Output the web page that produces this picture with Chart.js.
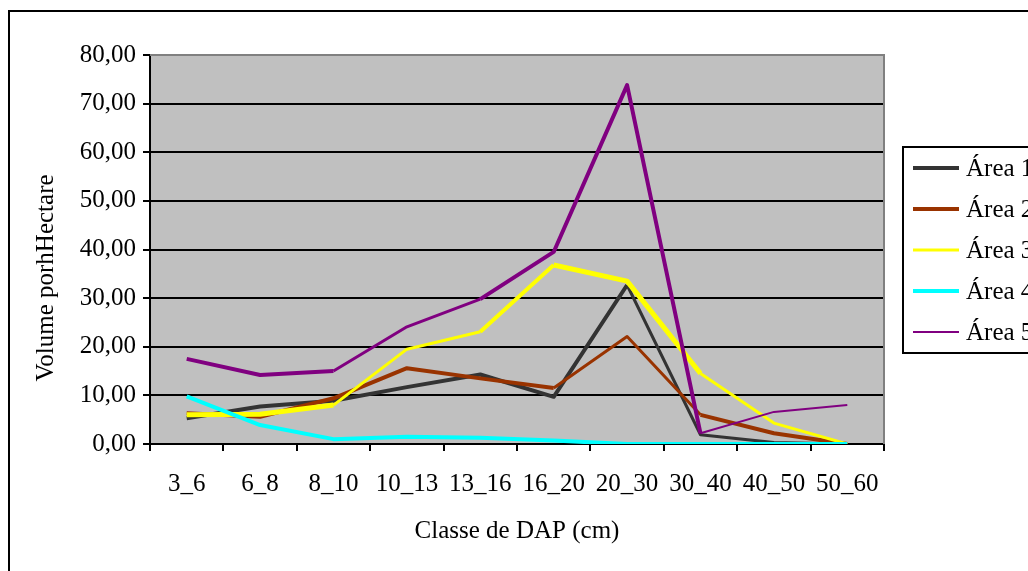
<!DOCTYPE html>
<html>
<head>
<meta charset="utf-8">
<title>Volume por hectare por classe de DAP</title>
<script src="https://cdn.jsdelivr.net/npm/chart.js@4.4.1/dist/chart.umd.min.js"></script>
<style>
  html, body { margin: 0; padding: 0; background: #ffffff; overflow: hidden; }
  #wrap { position: relative; width: 1028px; height: 571px; overflow: hidden; }
  canvas { display: block; }
</style>
</head>
<body>
<div id="wrap"><canvas id="chart" width="1028" height="571"></canvas></div>
<script>
// Diameter classes (cm)
const classes = ['3_6', '6_8', '8_10', '10_13', '13_16', '16_20', '20_30', '30_40', '40_50', '50_60'];

// Volume per hectare, one series per area
const area1 = [5.3, 7.7, 8.9, 11.7, 14.3, 9.7, 32.7, 1.9, 0.3, 0.0];
const area2 = [6.3, 5.6, 9.4, 15.6, 13.5, 11.5, 22.1, 6.0, 2.2, 0.0];
const area3 = [6.0, 6.1, 8.0, 19.5, 23.1, 36.8, 33.5, 14.5, 4.3, 0.0];
const area4 = [9.8, 3.9, 1.0, 1.5, 1.3, 0.7, 0.0, 0.0, 0.0, 0.0];
const area5 = [17.5, 14.2, 15.0, 24.1, 29.8, 39.5, 73.8, 2.2, 6.6, 8.0];

const seriesNames = ['Área 1', 'Área 2', 'Área 3', 'Área 4', 'Área 5'];

// Value axis ticks
const yTicks = [0, 10, 20, 30, 40, 50, 60, 70, 80];

const xTitle = 'Classe de DAP (cm)';
const yTitle = 'Volume porhHectare';

// Line styling
const colors = ['#333333', '#993300', '#ffff00', '#00ffff', '#800080'];
const segWidths = [
  [4, 4, 4, 4, 4, 4, 3, 3, 3],
  [4, 4, 4, 4, 4, 3, 3, 4, 4],
  [5, 5, 3, 3, 4, 5, 5, 3, 3],
  [4, 4, 4, 4, 4, 4, 4, 4, 4],
  [4, 4, 3, 3, 4, 4, 4, 2, 2]
];
const legendWidths = [4, 4, 3, 4, 2];

const FONT = '"Liberation Serif", "Times New Roman", Times, serif';
const FONT_SIZE = 25;
const series = [area1, area2, area3, area4, area5];

const datasets = series.map((values, i) => ({
  label: seriesNames[i],
  data: values,
  borderColor: colors[i],
  backgroundColor: colors[i],
  borderWidth: segWidths[i][0],
  segment: { borderWidth: ctx => segWidths[i][ctx.p0DataIndex] },
  pointRadius: 0,
  pointHoverRadius: 0,
  tension: 0,
  fill: false,
  borderJoinStyle: 'round',
  order: series.length - i
}));

// Grey plot area, its border, the outer frame and the vertical axis title
const framePlugin = {
  id: 'frame',
  beforeDraw(chart) {
    const { ctx, chartArea: a } = chart;
    ctx.save();
    ctx.fillStyle = '#c0c0c0';
    ctx.fillRect(a.left, a.top, a.right - a.left, a.bottom - a.top);
    ctx.restore();
  },
  afterDraw(chart) {
    const { ctx, chartArea: a } = chart;
    ctx.save();
    ctx.strokeStyle = '#808080';
    ctx.lineWidth = 2;
    ctx.beginPath();
    ctx.moveTo(a.left, a.top);
    ctx.lineTo(a.right, a.top);
    ctx.lineTo(a.right, a.bottom);
    ctx.stroke();

    // outer chart frame
    ctx.strokeStyle = '#000000';
    ctx.lineWidth = 2;
    ctx.strokeRect(9, 11, 1100, 700);

    // vertical axis title
    ctx.translate(46, 278);
    ctx.rotate(-Math.PI / 2);
    ctx.font = FONT_SIZE + 'px ' + FONT;
    ctx.fillStyle = '#000000';
    ctx.textAlign = 'center';
    ctx.textBaseline = 'middle';
    ctx.fillText(yTitle, 0, 0);
    ctx.restore();
  }
};

// Boxed legend on the right side
const boxLegendPlugin = {
  id: 'boxLegend',
  afterDraw(chart) {
    const { ctx } = chart;
    const x0 = 903, y0 = 147, h = 206;
    ctx.save();
    ctx.fillStyle = '#ffffff';
    ctx.fillRect(x0, y0, 200, h);
    ctx.strokeStyle = '#000000';
    ctx.lineWidth = 2;
    ctx.strokeRect(x0, y0, 200, h);
    ctx.font = FONT_SIZE + 'px ' + FONT;
    ctx.textBaseline = 'middle';
    ctx.fillStyle = '#000000';
    chart.data.datasets.forEach((ds, i) => {
      const y = y0 + 21 + i * 41;
      ctx.strokeStyle = ds.borderColor;
      ctx.lineWidth = legendWidths[i];
      ctx.beginPath();
      ctx.moveTo(913, y);
      ctx.lineTo(959, y);
      ctx.stroke();
      ctx.fillText(ds.label, 966, y + 1);
    });
    ctx.restore();
  }
};

new Chart(document.getElementById('chart'), {
  type: 'line',
  data: { labels: classes, datasets },
  options: {
    responsive: false,
    animation: false,
    events: [],
    layout: { padding: { left: 0, top: 55, right: 144, bottom: 0 } },
    plugins: {
      legend: { display: false },
      tooltip: { enabled: false }
    },
    scales: {
      x: {
        type: 'category',
        offset: true,
        afterFit(scale) { scale.height = 127; },
        grid: {
          offset: true,
          drawOnChartArea: false,
          drawTicks: true,
          tickLength: 7,
          color: '#000000',
          lineWidth: 2
        },
        border: { display: true, color: '#000000', width: 2 },
        ticks: {
          color: '#000000',
          font: { family: FONT, size: FONT_SIZE },
          padding: 18,
          maxRotation: 0,
          autoSkip: false
        },
        title: {
          display: true,
          text: xTitle,
          color: '#000000',
          font: { family: FONT, size: FONT_SIZE },
          padding: { top: 25, bottom: 25 }
        }
      },
      y: {
        min: 0,
        max: 80,
        afterFit(scale) { scale.width = 150; },
        afterBuildTicks(scale) { scale.ticks = yTicks.map(v => ({ value: v })); },
        grid: {
          drawOnChartArea: true,
          drawTicks: true,
          tickLength: 7,
          color: '#000000',
          lineWidth: 2
        },
        border: { display: true, color: '#000000', width: 2 },
        ticks: {
          color: '#000000',
          font: { family: FONT, size: FONT_SIZE },
          padding: 7,
          callback: v => v.toFixed(2).replace('.', ',')
        },
        title: { display: false }
      }
    }
  },
  plugins: [framePlugin, boxLegendPlugin]
});
</script>
</body>
</html>
